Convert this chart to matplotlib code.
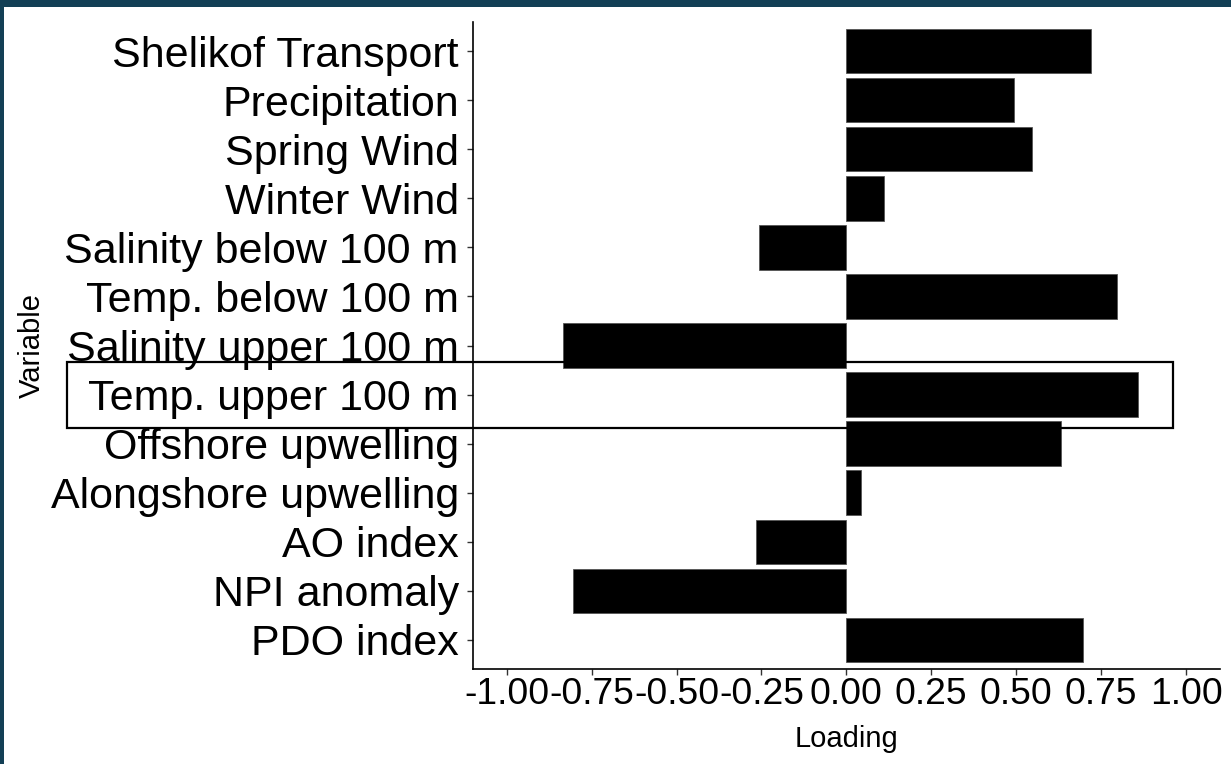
import matplotlib
matplotlib.use("Agg")
import matplotlib.pyplot as plt
from matplotlib.patches import Rectangle

# Data (top to bottom as shown)
variables = ["Shelikof Transport", "Precipitation", "Spring Wind", "Winter Wind",
             "Salinity below 100 m", "Temp. below 100 m", "Salinity upper 100 m",
             "Temp. upper 100 m", "Offshore upwelling", "Alongshore upwelling",
             "AO index", "NPI anomaly", "PDO index"]
loadings = [0.719, 0.493, 0.548, 0.112, -0.256, 0.796, -0.834,
            0.858, 0.633, 0.042, -0.265, -0.805, 0.697]
xticks = [-1.00, -0.75, -0.50, -0.25, 0.00, 0.25, 0.50, 0.75, 1.00]
xtick_labels = ["-1.00", "-0.75", "-0.50", "-0.25", "0.00", "0.25", "0.50", "0.75", "1.00"]
highlight = "Temp. upper 100 m"

plt.rcParams['font.family'] = ['Liberation Sans', 'DejaVu Sans']

W, H = 1231, 764
fig = plt.figure(figsize=(W / 100, H / 100), dpi=100)
fig.patch.set_facecolor("white")

# screenshot frame
fig.patches.append(Rectangle((0, 1 - 7 / H), 1, 7 / H, transform=fig.transFigure,
                             facecolor="#133f55", edgecolor="none", zorder=0))
fig.patches.append(Rectangle((0, 0), 4 / W, 1, transform=fig.transFigure,
                             facecolor="#133f55", edgecolor="none", zorder=0))

left, right = 472.7 / W, 1220 / W
bottom, top = 1 - 669 / H, 1 - 22 / H
ax = fig.add_axes([left, bottom, right - left, top - bottom])

n = len(variables)
ypos = [n - i for i in range(n)]
ax.barh(ypos, loadings, height=0.9, color="black", edgecolor="#555555", linewidth=0.6, zorder=2)

ax.set_xlim(-1.1, 1.1)
ax.set_ylim(0.4, n + 0.6)
ax.set_yticks(ypos)
ax.set_yticklabels(variables, fontsize=31)
ax.set_xticks(xticks)
ax.set_xticklabels(xtick_labels, fontsize=26.8)

ax.spines['top'].set_visible(False)
ax.spines['right'].set_visible(False)
for s in ['left', 'bottom']:
    ax.spines[s].set_linewidth(1.2)
    ax.spines[s].set_color("black")
ax.tick_params(axis='both', length=4, width=1.0, color="#333333", labelcolor="black")
ax.tick_params(axis='y', pad=6)
ax.tick_params(axis='x', pad=2)

ax.set_xlabel("Loading", fontsize=21, labelpad=9)
ax.set_ylabel("Variable", fontsize=21)
ax.yaxis.set_label_coords((46 - 472.7) / (1220 - 472.7), 0.5)

# highlight box around the selected variable
iy = ypos[variables.index(highlight)]
rect = Rectangle((-2.294, iy - 0.69), 0.961 + 2.294, 1.36, fill=False,
                 edgecolor="black", linewidth=1.6, clip_on=False, zorder=3)
ax.add_patch(rect)

fig.savefig("out.png", dpi=100)
